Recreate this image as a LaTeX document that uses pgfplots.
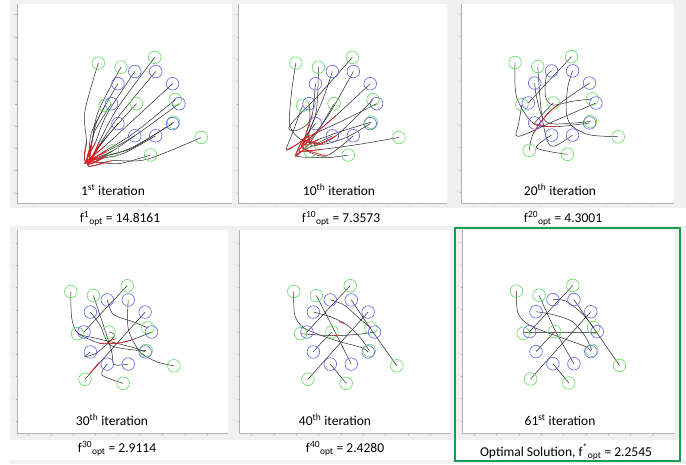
\documentclass[border=0pt]{standalone}
\usepackage{pgfplots}
\pgfplotsset{compat=1.18}
\usepackage{pgfplotstable}
\usepackage{fontspec}
\setmainfont{Carlito}
\definecolor{bggray}{RGB}{240,240,240}
\definecolor{cgreen}{RGB}{95,220,95}
\definecolor{cblue}{RGB}{95,95,235}
\definecolor{cred}{RGB}{235,30,30}
\definecolor{frame}{RGB}{20,160,80}
\pgfplotstableread{
x y
-1.39 1.20
-0.72 1.08
0.28 1.37
-1.19 -0.05
-0.26 0.0
0.89 0.12
0.84 -0.55
1.66 -1.0
-0.97 -1.40
0.16 -1.52
}\greens
\pgfplotstableread{
x y
1 0
0.81 0.59
0.31 0.95
-0.31 0.95
-0.81 0.59
-1 0
-0.81 -0.59
-0.31 -0.95
0.31 -0.95
0.81 -0.59
}\blues
\pgfplotsset{
  panel/.style={scale only axis, axis lines*=left, axis line style={draw=gray!60,-},
    axis background/.style={fill=white}, tick style={draw=gray!60}, major tick length=1.5pt,
    tick align=outside, ticklabel style={font=\fontsize{1.8}{2}\selectfont, text=gray!45, inner sep=0.5pt},
    xtick={-2.64,-1.98,-1.32,-0.66,0,0.66,1.32,1.98,2.64},
    ytick={-2.64,-1.98,-1.32,-0.66,0,0.66,1.32,1.98,2.64},
    xticklabels={-0.8,-0.6,-0.4,-0.2,0,0.2,0.4,0.6,0.8},
    yticklabels={-0.8,-0.6,-0.4,-0.2,0,0.2,0.4,0.6,0.8}},
  traj/.style={smooth, no markers, draw=black!85, line width=0.5pt},
  coll/.style={smooth, no markers, draw=cred, line width=0.7pt},
  gc/.style={only marks, mark=o, mark size=6.3pt, mark options={draw=cgreen, line width=0.6pt}},
  bc/.style={only marks, mark=o, mark size=6.3pt, mark options={draw=cblue, line width=0.6pt}},
}
\begin{document}
\begin{tikzpicture}
\path[use as bounding box] (0pt,0pt) rectangle (686pt,464pt);
\fill[white] (0pt,0pt) rectangle (686pt,464pt);
\fill[bggray] (10pt,256pt) rectangle (686pt,464pt);
\fill[bggray] (10pt,24pt) rectangle (686pt,238pt);
\fill[bggray] (10pt,0pt) rectangle (686pt,4pt);

% ---------- Panel 1 ----------
\begin{axis}[panel, at={(17pt,261pt)}, anchor=south west, width=215pt, height=199pt,
  xmin=-3.80, xmax=2.57, ymin=-2.94, ymax=2.95, xtick={-3.3,-1.65,0,1.65}, xticklabels={-0.5,0,0.5,1}]
\addplot[traj] coordinates {(-1.39,1.20) (-1.79,-0.23) (-1.74,-1.12) (-1.78,-1.70) (-1.17,-1.55) (-0.38,-1.29) (0.81,-0.59)};
\addplot[traj] coordinates {(-0.72,1.08) (-1.40,-0.25) (-1.58,-1.13) (-1.72,-1.78) (-1.28,-1.62) (-0.64,-1.47) (0.31,-0.95)};
\addplot[traj] coordinates {(0.28,1.37) (-0.81,-0.11) (-1.34,-1.08) (-1.65,-1.74) (-1.62,-1.35) (-1.49,-0.80) (-1,0)};
\addplot[traj] coordinates {(-1.19,-0.05) (-1.59,-0.84) (-1.66,-1.37) (-1.70,-1.66) (-1.14,-1.41) (-0.30,-0.94) (1,0)};
\addplot[traj] coordinates {(-0.26,0) (-1.01,-0.83) (-1.42,-1.36) (-1.68,-1.80) (-1.53,-1.49) (-1.28,-1.14) (-0.81,-0.59)};
\addplot[traj] coordinates {(-0.31,0.95) (-1.14,-0.32) (-1.48,-1.16) (-1.75,-1.72) (-1.16,-1.38) (-0.35,-0.88) (0.89,0.12)};
\addplot[traj] coordinates {(-0.81,0.59) (-1.42,-0.50) (-1.59,-1.23) (-1.62,-1.76) (-1.16,-1.55) (-0.35,-1.30) (0.84,-0.55)};
\addplot[traj] coordinates {(1.66,-1.0) (0.04,-1.65) (-1.00,-1.69) (-1.70,-1.84) (-1.32,-1.17) (-0.76,-0.34) (0.31,0.95)};
\addplot[traj] coordinates {(-0.97,-1.40) (-1.34,-1.60) (-1.56,-1.67) (-1.80,-1.76) (-1.20,-1.26) (-0.45,-0.57) (0.81,0.59)};
\addplot[traj] coordinates {(0.16,-1.52) (-0.75,-1.77) (-1.32,-1.74) (-1.66,-1.70) (-1.41,-1.59) (-0.97,-1.40) (-0.31,-0.95)};
\addplot[coll] coordinates {(-1.74,-1.12) (-1.78,-1.70) (-1.17,-1.55)};
\addplot[coll] coordinates {(-1.58,-1.13) (-1.72,-1.78) (-1.28,-1.62)};
\addplot[coll] coordinates {(-1.34,-1.08) (-1.65,-1.74) (-1.62,-1.35)};
\addplot[coll] coordinates {(-1.66,-1.37) (-1.70,-1.66) (-1.14,-1.41)};
\addplot[coll] coordinates {(-1.42,-1.36) (-1.68,-1.80) (-1.53,-1.49)};
\addplot[coll] coordinates {(-1.48,-1.16) (-1.75,-1.72) (-1.16,-1.38)};
\addplot[coll] coordinates {(-1.59,-1.23) (-1.62,-1.76) (-1.16,-1.55)};
\addplot[coll] coordinates {(-1.00,-1.69) (-1.70,-1.84) (-1.32,-1.17)};
\addplot[coll] coordinates {(-1.56,-1.67) (-1.80,-1.76) (-1.20,-1.26)};
\addplot[coll] coordinates {(-1.32,-1.74) (-1.66,-1.70) (-1.41,-1.59)};
\addplot[gc] table {\greens};
\addplot[bc] table {\blues};
\end{axis}

% ---------- Panel 2 ----------
\begin{axis}[panel, at={(238pt,261pt)}, anchor=south west, width=209pt, height=199pt,
  xmin=-3.10, xmax=3.08, ymin=-2.94, ymax=2.95]
\addplot[traj] coordinates {(-1.39,1.20) (-1.52,0.31) (-1.57,-0.63) (-1.25,-1.05) (-0.6,-1.2) (0.1,-1.0) (0.81,-0.59)};
\addplot[traj] coordinates {(-0.72,1.08) (-0.78,-0.19) (-1.05,-0.95) (-1.2,-1.3) (-0.5,-1.55) (0.31,-0.95)};
\addplot[traj] coordinates {(0.28,1.37) (-0.65,0.32) (-1.57,-0.65) (-1.40,-0.80) (-1.0,-0.55) (-1,0)};
\addplot[traj] coordinates {(-1.19,-0.05) (-1.5,-0.9) (-1.67,-1.37) (-1.35,-1.2) (-1.03,-0.98) (0,-0.5) (1,0)};
\addplot[traj] coordinates {(-0.26,0) (-0.7,-0.75) (-1.05,-1.25) (-1.4,-1.55) (-1.2,-1.1) (-0.81,-0.59)};
\addplot[traj] coordinates {(-0.31,0.95) (-0.6,0.1) (-1.0,-0.85) (-0.9,-1.25) (-0.2,-0.95) (0.89,0.12)};
\addplot[traj] coordinates {(-0.81,0.59) (-0.9,-0.3) (-1.15,-1.2) (-0.7,-1.05) (0,-0.8) (0.84,-0.55)};
\addplot[traj] coordinates {(0.31,0.95) (-0.4,-0.3) (-0.95,-1.05) (-1.3,-1.4) (-0.6,-1.35) (0.5,-1.2) (1.66,-1.0)};
\addplot[traj] coordinates {(0.81,0.59) (-0.2,-0.35) (-0.9,-0.95) (-1.2,-1.2) (-1.1,-1.35) (-0.97,-1.40)};
\addplot[traj] coordinates {(0.16,-1.52) (-0.5,-1.6) (-1.38,-1.55) (-1.0,-1.3) (-0.31,-0.95)};
\addplot[coll] coordinates {(-1.25,-1.05) (-0.6,-1.2)};
\addplot[coll] coordinates {(-1.05,-0.95) (-1.2,-1.3) (-0.5,-1.55)};
\addplot[coll] coordinates {(-1.67,-1.37) (-1.35,-1.2) (-1.03,-0.98)};
\addplot[coll] coordinates {(-1.05,-1.25) (-1.4,-1.55) (-1.2,-1.1)};
\addplot[coll] coordinates {(-1.0,-0.85) (-0.9,-1.25) (-0.2,-0.95)};
\addplot[coll] coordinates {(-0.9,-0.3) (-1.15,-1.2) (-0.7,-1.05)};
\addplot[coll] coordinates {(-0.95,-1.05) (-1.3,-1.4) (-0.6,-1.35)};
\addplot[coll] coordinates {(-0.2,-0.35) (-0.9,-0.95) (-1.2,-1.2)};
\addplot[gc] table {\greens};
\addplot[bc] table {\blues};
\end{axis}

% ---------- Panel 3 ----------
\begin{axis}[panel, at={(461pt,261pt)}, anchor=south west, width=213pt, height=199pt,
  xmin=-2.99, xmax=3.31, ymin=-2.96, ymax=2.93]
\addplot[traj] coordinates {(-1.39,1.20) (-1.35,0.19) (-0.86,-0.60) (-0.18,-0.70) (0.81,-0.59)};
\addplot[traj] coordinates {(-0.72,1.08) (-0.62,-0.21) (-0.45,-1.09) (-0.23,-1.28) (0.31,-0.95)};
\addplot[traj] coordinates {(0.28,1.37) (-0.36,0.69) (-1,0)};
\addplot[traj] coordinates {(-1.19,-0.05) (-1.28,-0.60) (-1.30,-0.99) (-0.15,-0.50) (1,0)};
\addplot[traj] coordinates {(-0.26,0) (-0.55,-0.30) (-0.81,-0.59)};
\addplot[traj] coordinates {(-0.31,0.95) (-0.47,0.77) (-0.49,0.19) (-0.27,-0.06) (0.3,0.05) (0.89,0.12)};
\addplot[traj] coordinates {(-0.81,0.59) (-0.76,0.19) (-0.59,-0.40) (-0.27,-0.62) (0.84,-0.55)};
\addplot[traj] coordinates {(0.31,0.95) (0.17,0.48) (0.12,-0.21) (0.26,-0.65) (0.80,-0.94) (1.66,-1.0)};
\addplot[traj] coordinates {(0.81,0.59) (-0.32,-0.21) (-0.85,-0.90) (-0.97,-1.40)};
\addplot[traj] coordinates {(0.16,-1.52) (-0.76,-1.33) (-0.31,-0.95)};
\addplot[coll] coordinates {(-0.12,-0.07) (-0.32,-0.21) (-0.62,-0.55) (-0.85,-0.90)};
\addplot[coll] coordinates {(-0.86,-0.60) (-0.50,-0.69) (-0.18,-0.70)};
\addplot[gc] table {\greens};
\addplot[bc] table {\blues};
\end{axis}

% ---------- Panel 4 ----------
\begin{axis}[panel, at={(17pt,31pt)}, anchor=south west, width=211pt, height=203pt,
  xmin=-2.98, xmax=3.26, ymin=-2.99, ymax=3.02]
\addplot[traj] coordinates {(-1.39,1.20) (-1.36,0.40) (-1.17,-0.04) (-0.53,-0.21) (0.46,-0.46) (0.81,-0.59)};
\addplot[traj] coordinates {(-0.72,1.08) (-0.43,0.21) (-0.18,-0.58) (-0.11,-0.96) (0.31,-0.95)};
\addplot[traj] coordinates {(0.28,1.37) (-0.36,0.69) (-1,0)};
\addplot[traj] coordinates {(-1.19,-0.05) (-0.55,-0.33) (0,-0.33) (0.45,-0.22) (1,0)};
\addplot[traj] coordinates {(-0.26,0) (-0.10,-0.12) (-0.60,-0.60) (-0.97,-0.73) (-0.81,-0.59)};
\addplot[traj] coordinates {(-0.31,0.95) (-0.13,0.52) (0.46,0.30) (0.89,0.12)};
\addplot[traj] coordinates {(-0.81,0.59) (-0.53,0.21) (-0.23,-0.38) (0.46,-0.53) (0.84,-0.55)};
\addplot[traj] coordinates {(0.31,0.95) (0.31,0.10) (0.65,-0.58) (1.15,-0.88) (1.66,-1.0)};
\addplot[traj] coordinates {(0.81,0.59) (-0.08,-0.40) (-0.97,-1.40)};
\addplot[traj] coordinates {(0.16,-1.52) (-0.47,-1.27) (-0.31,-0.95)};
\addplot[coll] coordinates {(-0.55,-0.33) (0,-0.33) (0.45,-0.22)};
\addplot[coll] coordinates {(-0.55,-0.90) (-0.85,-1.25)};
\addplot[coll] coordinates {(-0.25,-0.26) (-0.05,-0.20)};
\addplot[gc] table {\greens};
\addplot[bc] table {\blues};
\end{axis}

% ---------- Panel 5 ----------
\begin{axis}[panel, at={(239pt,31pt)}, anchor=south west, width=212pt, height=203pt,
  xmin=-3.01, xmax=3.26, ymin=-2.99, ymax=3.02]
\addplot[traj] coordinates {(-1.39,1.20) (-1.36,0.50) (-1.07,0.11) (-0.18,-0.24) (0.61,-0.46) (0.81,-0.59)};
\addplot[traj] coordinates {(-0.72,1.08) (-0.20,0.06) (0.31,-0.95)};
\addplot[traj] coordinates {(0.28,1.37) (-0.36,0.69) (-1,0)};
\addplot[traj] coordinates {(-1.19,-0.05) (-0.20,-0.11) (0.60,-0.06) (1,0)};
\addplot[traj] coordinates {(-0.26,0) (-0.60,-0.35) (-0.81,-0.59)};
\addplot[traj] coordinates {(-0.31,0.95) (0.10,0.80) (0.55,0.40) (0.89,0.12)};
\addplot[traj] coordinates {(-0.81,0.59) (-0.30,0.45) (0.20,0.20) (0.60,-0.20) (0.84,-0.55)};
\addplot[traj] coordinates {(0.31,0.95) (0.95,0.0) (1.66,-1.0)};
\addplot[traj] coordinates {(0.81,0.59) (-0.08,-0.40) (-0.97,-1.40)};
\addplot[traj] coordinates {(0.16,-1.52) (-0.07,-1.24) (-0.31,-0.95)};
\addplot[coll] coordinates {(-0.20,-0.11) (-0.05,-0.11)};
\addplot[coll] coordinates {(-0.05,0.31) (0.10,0.25)};
\addplot[gc] table {\greens};
\addplot[bc] table {\blues};
\end{axis}

% ---------- Panel 6 ----------
\begin{axis}[panel, at={(462pt,31pt)}, anchor=south west, width=213pt, height=203pt,
  xmin=-3.00, xmax=3.30, ymin=-3.00, ymax=3.01]
\addplot[traj] coordinates {(-1.39,1.20) (-1.35,0.57) (-1.02,0.20) (-0.14,-0.15) (0.65,-0.44) (0.81,-0.59)};
\addplot[traj] coordinates {(-0.72,1.08) (-0.25,0.05) (0.31,-0.95)};
\addplot[traj] coordinates {(0.28,1.37) (-0.36,0.69) (-1,0)};
\addplot[traj, line width=0.9pt, draw=black!60] coordinates {(-1.19,-0.02) (0,-0.02) (1,-0.02)};
\addplot[traj] coordinates {(-0.26,0) (-0.54,-0.30) (-0.81,-0.59)};
\addplot[traj] coordinates {(-0.31,0.95) (0.06,0.91) (0.55,0.54) (0.89,0.12)};
\addplot[traj] coordinates {(-0.81,0.59) (-0.33,0.51) (0.26,0.30) (0.65,-0.15) (0.84,-0.55)};
\addplot[traj] coordinates {(0.31,0.95) (0.98,-0.02) (1.66,-1.0)};
\addplot[traj] coordinates {(0.81,0.59) (-0.08,-0.40) (-0.97,-1.40)};
\addplot[traj] coordinates {(0.16,-1.52) (-0.07,-1.24) (-0.31,-0.95)};
\addplot[gc] table {\greens};
\addplot[bc] table {\blues};
\end{axis}

\draw[frame, line width=2pt] (455pt,3pt) rectangle (680pt,236pt);

\tikzset{lab/.style={font=\fontsize{13.5}{16}\selectfont, inner sep=0pt}}
\node[lab] at (113pt,274pt) {1\textsuperscript{st} iteration};
\node[lab] at (339pt,274pt) {10\textsuperscript{th} iteration};
\node[lab] at (560pt,274pt) {20\textsuperscript{th} iteration};
\node[lab] at (112pt,44pt) {30\textsuperscript{th} iteration};
\node[lab] at (335pt,44pt) {40\textsuperscript{th} iteration};
\node[lab] at (560pt,44pt) {61\textsuperscript{st} iteration};
\node[lab] at (120pt,245pt) {f\textsuperscript{1}\textsubscript{opt} = 14.8161};
\node[lab] at (341pt,245pt) {f\textsuperscript{10}\textsubscript{opt} = 7.3573};
\node[lab] at (563pt,245pt) {f\textsuperscript{20}\textsubscript{opt} = 4.3001};
\node[lab] at (117pt,15pt) {f\textsuperscript{30}\textsubscript{opt} = 2.9114};
\node[lab] at (345pt,15pt) {f\textsuperscript{40}\textsubscript{opt} = 2.4280};
\node[lab] at (566pt,12pt) {Optimal Solution, f\textsuperscript{*}\textsubscript{opt} = 2.2545};
\end{tikzpicture}
\end{document}
